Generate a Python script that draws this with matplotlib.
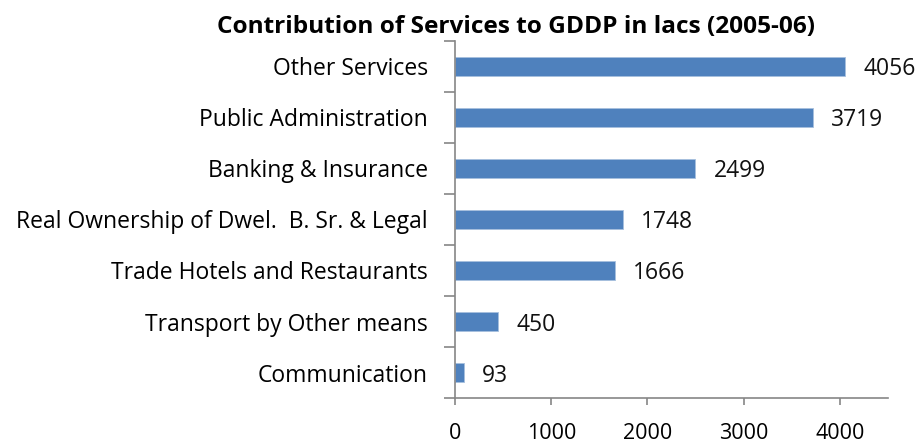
import matplotlib
matplotlib.use("Agg")
import matplotlib.pyplot as plt

categories = [
    "Other Services",
    "Public Administration",
    "Banking & Insurance",
    "Real Ownership of Dwel.  B. Sr. & Legal",
    "Trade Hotels and Restaurants",
    "Transport by Other means",
    "Communication",
]
values = [4056, 3719, 2499, 1748, 1666, 450, 93]
x_ticks = [0, 1000, 2000, 3000, 4000]
title = "Contribution of Services to GDDP in lacs (2005-06)"

plt.rcParams["font.family"] = ["Open Sans", "DejaVu Sans"]
FS = 16.5

fig = plt.figure(figsize=(9.2, 4.48), dpi=100)
ax = fig.add_axes([0.4946, 0.1116, 0.4706, 0.7969])

n = len(categories)
ypos = [n - 1 - i for i in range(n)]
ax.barh(ypos, values, height=0.37, color="#4F81BD", edgecolor="#A7C0DE", linewidth=0.6)

for y, v in zip(ypos, values):
    ax.annotate(str(v), (v, y), xytext=(18, 0), textcoords="offset pixels",
                va="center_baseline", ha="left", fontsize=FS, color="#111111")

ax.set_xlim(0, 4500)
ax.set_ylim(-0.5, n - 0.5)
ax.set_xticks(x_ticks)
ax.set_xticklabels([str(t) for t in x_ticks], fontsize=15.5)
ax.set_yticks(ypos)
ax.set_yticklabels(categories, fontsize=FS)

# category boundary ticks on the value axis
ax.set_yticks([i - 0.5 for i in range(n + 1)], minor=True)
ax.tick_params(axis="y", which="major", length=0, pad=19.5)
ax.tick_params(axis="y", which="minor", length=8, width=1.2, color="#868686", direction="out")
ax.tick_params(axis="x", which="major", length=5, width=1.2, color="#868686", direction="out", pad=13)

for s in ["top", "right"]:
    ax.spines[s].set_visible(False)
for s in ["left", "bottom"]:
    ax.spines[s].set_color("#868686")
    ax.spines[s].set_linewidth(1.2)

fig.text(0.5614, 0.939, title, ha="center", va="center", fontsize=17.6, fontweight="bold")

fig.savefig("out.png", dpi=100, facecolor="white")
